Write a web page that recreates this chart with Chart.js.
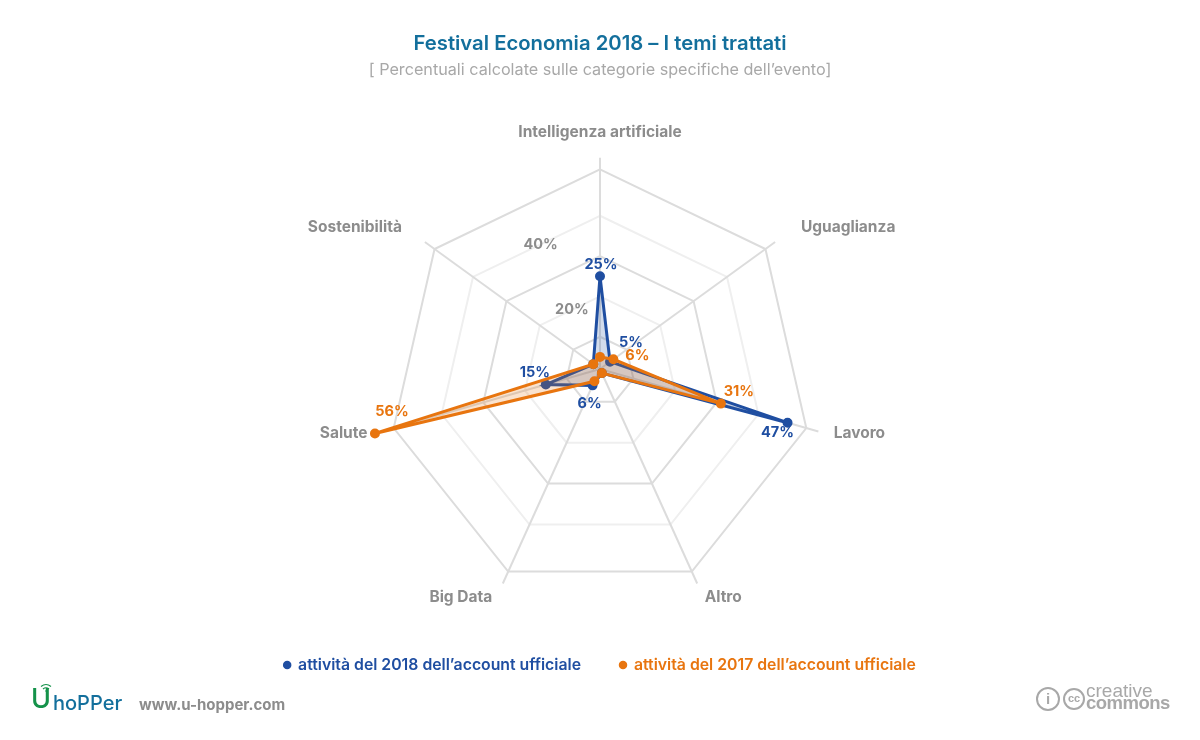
<!DOCTYPE html>
<html>
<head>
<meta charset="utf-8">
<title>Festival Economia 2018</title>
<script src="https://cdn.jsdelivr.net/npm/chart.js@4"></script>
<style>
    html, body { margin: 0; padding: 0; background: #fff; }
    #wrap { position: relative; width: 1200px; height: 740px; overflow: hidden; font-family: Inter, sans-serif; }
    #wrap canvas { position: absolute; left: 0; top: 0; }
    .foot { position: absolute; white-space: nowrap; }
    #site { left: 139px; top: 695px; font-size: 15px; font-weight: 700; color: #8c8c8c; }
    #logo_u { left: 31px; top: 684px; font-size: 27px; font-weight: 500; color: #15924a; line-height: 30px; }
    #logo_h { left: 53px; top: 692px; font-size: 20px; font-weight: 500; color: #136f9c; line-height: 22px; }
    #logo_wifi { left: 39px; top: 683px; }
    #cc_a { left: 1086px; top: 682px; font: 19px/18px "Liberation Sans", sans-serif; color: #a8a8a8; }
    #cc_b { left: 1086px; top: 694px; font: bold 18.5px/18px "Liberation Sans", sans-serif; color: #a8a8a8; letter-spacing: -0.5px; }
    #cc_mark { left: 1063px; top: 688px; width: 22px; height: 22px; box-sizing: border-box; border: 2px solid #a8a8a8; border-radius: 50%; text-align: center; font: bold 11px/17px "Liberation Sans", sans-serif; color: #a8a8a8; }
    #by_mark { left: 1036px; top: 687px; width: 24px; height: 24px; box-sizing: border-box; border: 2px solid #a8a8a8; border-radius: 50%; text-align: center; font: bold 15px/20px "Liberation Sans", sans-serif; color: #a8a8a8; }
</style>
</head>
<body>
<div id="wrap">
    <canvas id="chart_topic" width="1200" height="740"></canvas>
    <svg class="foot" id="logo_wifi" width="14" height="10" viewBox="0 0 14 10" fill="none" stroke="#15924a" stroke-width="1.2">
        <path d="M2 3.5 Q7 -0.5 12 3.5" />
        <path d="M4 6 Q7 3.5 10 6" />
        <circle cx="7" cy="8" r="0.8" fill="#15924a" stroke="none" />
    </svg>
    <div class="foot" id="logo_u">U</div>
    <div class="foot" id="logo_h">hoPPer</div>
    <div class="foot" id="site">www.u-hopper.com</div>
    <div class="foot" id="by_mark">i</div>
    <div class="foot" id="cc_mark">cc</div>
    <div class="foot" id="cc_a">creative</div>
    <div class="foot" id="cc_b">commons</div>
</div>
<script>
const categories = ['Intelligenza artificiale', 'Uguaglianza', 'Lavoro', 'Altro', 'Big Data', 'Salute', 'Sostenibilità']
const values_2018 = [25, 5, 47, 3, 6, 15, 4]
const values_2017 = [5, 6, 31, 3, 5, 56, 4]
const labels_2018 = ['25%', '5%', '47%', null, '6%', '15%', null]
const labels_2017 = [null, '6%', '31%', null, null, '56%', null]
const ring_values = [10, 20, 30, 40, 51.5]
const tick_values = [20, 40]
const tick_labels = ['20%', '40%']
const series_names = ['attività del 2018 dell’account ufficiale', 'attività del 2017 dell’account ufficiale']

const FONT = 'Inter, sans-serif'
const BLUE = '#1f4ea1'
const ORANGE = '#e8750f'

// where each text sits relative to its point
const label_shift_2018 = [[1, -12], [21, -19], [-10, 10], null, [-3, 18], [-11, -12], null]
const label_shift_2017 = [null, [24, -4], [18, -12], null, null, [17, -22], null]
const category_shift = [[0, -25], [73, -15], [41, 2], [26, 14], [-42, 14], [-38, 2], [-70, -15]]

// in the reference everything slides down a little as it moves away from the center
const slide_plugin = {
    id: 'slide_plugin',
    beforeDatasetsUpdate(chart) {
        const scale = chart.scales.r
        if (scale.slide_done) {
            return
        }
        const base = scale.getPointPosition
        scale.getPointPosition = function (index, distance, angle) {
            const pos = base.call(this, index, distance, angle)
            pos.y += distance * 0.0566
            return pos
        }
        scale.slide_done = true
    }
}

// room between the radar and the legend
const spacer_plugin = {
    id: 'spacer_plugin',
    beforeInit(chart) {
        Chart.layouts.addBox(chart, {
            position: 'bottom',
            weight: 500,
            fullSize: true,
            options: {},
            isHorizontal() {
                return true
            },
            update(width, height) {
                this.width = width
                this.height = 24
            },
            draw() {}
        })
    }
}

const text_plugin = {
    id: 'text_plugin',
    afterDatasetsDraw(chart) {
        const scale = chart.scales.r
        const ctx = chart.ctx
        ctx.save()
        ctx.textAlign = 'center'
        ctx.textBaseline = 'middle'

        ctx.font = '700 15.5px ' + FONT
        ctx.fillStyle = '#8c8c8c'
        categories.forEach((name, i) => {
            const pos = scale.getPointPositionForValue(i, scale.max)
            ctx.fillText(name, pos.x + category_shift[i][0], pos.y + category_shift[i][1])
        })

        // tick labels sit halfway between two spokes
        ctx.font = '700 14.5px ' + FONT
        const angle = 25.5 * Math.PI / 180
        tick_values.forEach((value, index) => {
            const dist = scale.getDistanceFromCenterForValue(value) * 0.85
            ctx.fillText(tick_labels[index], scale.xCenter - dist * Math.sin(angle), scale.yCenter - dist * Math.cos(angle))
        })

        const draw = (values, labels, shifts, color) => {
            labels.forEach((text, i) => {
                if (text == null) {
                    return
                }
                const pos = scale.getPointPositionForValue(i, values[i])
                ctx.fillStyle = color
                ctx.fillText(text, pos.x + shifts[i][0], pos.y + shifts[i][1])
            })
        }
        draw(values_2018, labels_2018, label_shift_2018, BLUE)
        draw(values_2017, labels_2017, label_shift_2017, ORANGE)
        ctx.restore()
    }
}

new Chart(document.getElementById('chart_topic'), {
    type: 'radar',
    data: {
        labels: categories,
        datasets: [
            {
                label: series_names[0],
                data: values_2018,
                order: 2,
                borderColor: BLUE,
                backgroundColor: 'rgba(31, 78, 161, 0.2)',
                pointBackgroundColor: BLUE,
                pointBorderColor: BLUE,
                borderWidth: 3,
                pointRadius: 3.5,
                fill: true
            },
            {
                label: series_names[1],
                data: values_2017,
                order: 1,
                borderColor: ORANGE,
                backgroundColor: 'rgba(232, 117, 15, 0.2)',
                pointBackgroundColor: ORANGE,
                pointBorderColor: ORANGE,
                borderWidth: 3,
                pointRadius: 3.5,
                fill: true
            }
        ]
    },
    options: {
        responsive: false,
        animation: false,
        layout: {
            padding: { top: 32, bottom: 57 }
        },
        scales: {
            r: {
                min: 2,
                max: 54.4,
                afterBuildTicks(scale) {
                    scale.ticks = [scale.min, ...ring_values].map((value) => ({ value: value }))
                },
                ticks: { display: false },
                grid: {
                    lineWidth: 2,
                    color(context) {
                        return context.index % 2 == 1 ? '#dcdcdc' : '#efefef'
                    }
                },
                angleLines: { color: '#dcdcdc', lineWidth: 2 },
                pointLabels: { display: false }
            }
        },
        plugins: {
            title: {
                display: true,
                text: 'Festival Economia 2018 – I temi trattati',
                color: '#136f9c',
                font: { family: FONT, size: 20.3, weight: '600' },
                padding: { top: 0, bottom: 4 }
            },
            subtitle: {
                display: true,
                text: '[ Percentuali calcolate sulle categorie specifiche dell’evento]',
                color: '#a8a8a8',
                font: { family: FONT, size: 16.2, weight: '400' },
                padding: { bottom: 65 }
            },
            legend: {
                position: 'bottom',
                labels: {
                    usePointStyle: true,
                    pointStyle: 'circle',
                    boxWidth: 6,
                    boxHeight: 6,
                    padding: 39,
                    font: { family: FONT, size: 15.8, weight: '600' },
                    generateLabels(chart) {
                        return chart.data.datasets.map((dataset, i) => ({
                            text: dataset.label,
                            datasetIndex: i,
                            fillStyle: dataset.borderColor,
                            strokeStyle: dataset.borderColor,
                            fontColor: dataset.borderColor,
                            lineWidth: 0,
                            pointStyle: 'circle'
                        }))
                    }
                }
            },
            tooltip: { enabled: false }
        }
    },
    plugins: [slide_plugin, spacer_plugin, text_plugin]
})
</script>
</body>
</html>
